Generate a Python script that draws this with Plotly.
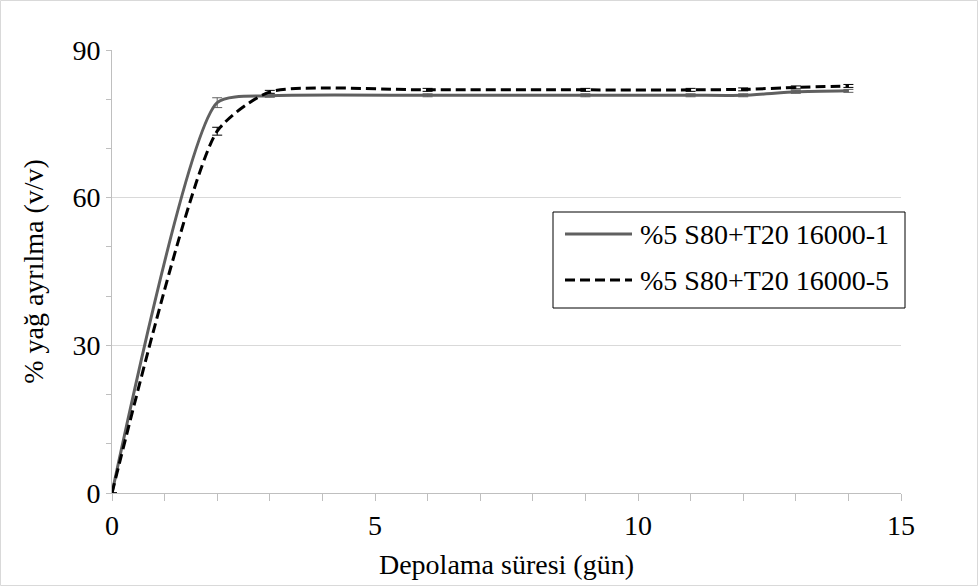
import plotly.graph_objects as go

days = [0, 2, 3, 6, 9, 11, 12, 13, 14]
s1_name = "%5 S80+T20 16000-1"
s5_name = "%5 S80+T20 16000-5"
s1_vals = [0, 79.3, 80.7, 80.8, 80.8, 80.8, 80.8, 81.5, 81.7]
s1_err = [0, 1.0, 0.3, 0.3, 0.3, 0.3, 0.3, 0.3, 0.3]
s5_vals = [0, 73.5, 81.5, 81.9, 81.9, 81.9, 82.0, 82.4, 82.7]
s5_err = [0, 0.8, 0.3, 0.3, 0.3, 0.3, 0.3, 0.3, 0.3]
x_ticks = [0, 5, 10, 15]
y_ticks = [0, 30, 60, 90]

FONT = "Liberation Serif, Times New Roman, serif"
FS = 28
C1 = "#606060"
C5 = "#000000"
DASH = "10px,5px"

fig = go.Figure()
fig.add_trace(go.Scatter(
    x=days, y=s1_vals, name=s1_name, mode="lines", showlegend=False,
    line=dict(color=C1, width=3, shape="spline", smoothing=0.6),
    error_y=dict(type="data", array=s1_err, visible=True, color=C1, thickness=1, width=5),
))
fig.add_trace(go.Scatter(
    x=days, y=s5_vals, name=s5_name, mode="lines", showlegend=False,
    line=dict(color=C5, width=3, dash=DASH, shape="spline", smoothing=0.6),
    error_y=dict(type="data", array=s5_err, visible=True, color=C5, thickness=1, width=5),
))

W, H = 979, 587
L, R, T, B = 112, 78, 50, 94
pw, ph = W - L - R, H - T - B


def px(x):
    return (x - L) / pw


def py(y):
    return (H - B - y) / ph


shapes = [
    dict(type="rect", xref="paper", yref="paper",
         x0=-(L - 0.5) / pw, x1=1 + (R - 1.5) / pw,
         y0=-(B - 1.5) / ph, y1=1 + (T - 0.5) / ph,
         line=dict(color="#d9d9d9", width=1), layer="below"),
    # legend box
    dict(type="rect", xref="paper", yref="paper",
         x0=px(553), x1=px(905), y0=py(308), y1=py(212),
         line=dict(color="#000000", width=1), fillcolor="white", layer="above"),
    dict(type="line", xref="paper", yref="paper",
         x0=px(565), x1=px(632), y0=py(234), y1=py(234),
         line=dict(color=C1, width=3)),
    dict(type="line", xref="paper", yref="paper",
         x0=px(565), x1=px(632), y0=py(280), y1=py(280),
         line=dict(color=C5, width=3, dash=DASH)),
]
annotations = [
    dict(text=s1_name, xref="paper", yref="paper", x=px(638), y=py(234),
         xanchor="left", yanchor="middle", showarrow=False,
         font=dict(family=FONT, size=FS, color="#000000")),
    dict(text=s5_name, xref="paper", yref="paper", x=px(638), y=py(280),
         xanchor="left", yanchor="middle", showarrow=False,
         font=dict(family=FONT, size=FS, color="#000000")),
]

fig.update_layout(
    width=W, height=H,
    margin=dict(l=L, r=R, t=T, b=B),
    paper_bgcolor="white", plot_bgcolor="white",
    font=dict(family=FONT, size=FS, color="#000000"),
    showlegend=False,
    xaxis=dict(
        range=[0, 15], tickvals=x_ticks, showgrid=False, zeroline=False,
        showline=True, linecolor="#bfbfbf", linewidth=1,
        ticks="outside", ticklen=7, tickcolor="#bfbfbf",
        minor=dict(dtick=1, ticks="outside", ticklen=7, tickcolor="#bfbfbf", showgrid=False),
        title=dict(text="Depolama süresi (gün)", font=dict(family=FONT, size=FS), standoff=14),
        tickfont=dict(family=FONT, size=FS),
    ),
    yaxis=dict(
        range=[0, 90], tickvals=y_ticks, showgrid=True, gridcolor="#d9d9d9", gridwidth=1,
        zeroline=False, showline=True, linecolor="#bfbfbf", linewidth=1,
        ticks="outside", ticklen=5, tickcolor="#bfbfbf",
        minor=dict(dtick=10, ticks="outside", ticklen=5, tickcolor="#bfbfbf", showgrid=False),
        title=dict(text="% yağ ayrılma (v/v)", font=dict(family=FONT, size=FS), standoff=20),
        tickfont=dict(family=FONT, size=FS),
    ),
    shapes=shapes,
    annotations=annotations,
)

fig.write_html("out.html", config={"displayModeBar": False},
               post_script="document.body.style.margin='0px';")
